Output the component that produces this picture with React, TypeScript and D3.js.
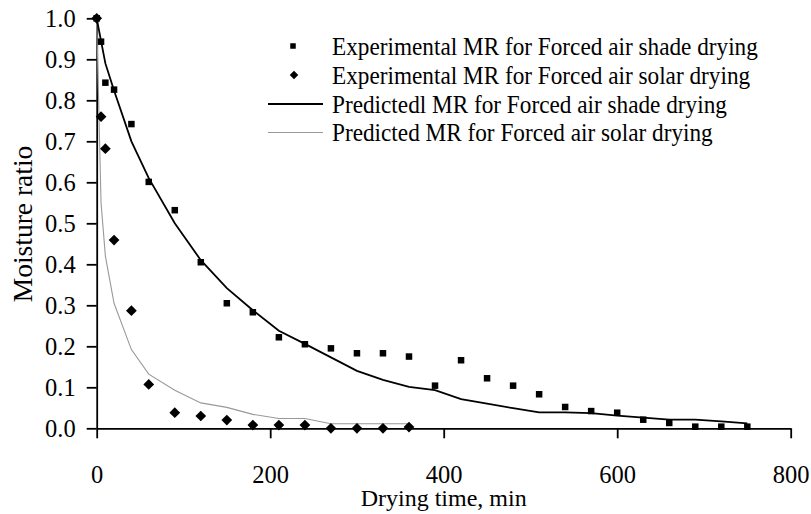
import React, { useEffect, useRef } from 'react';
import * as d3 from 'd3';

// drying time (min)
const shadeTime = [0, 5, 10, 20, 40, 60, 90, 120, 150, 180, 210, 240, 270, 300, 330, 360, 390, 420, 450, 480, 510, 540, 570, 600, 630, 660, 690, 720, 750];
const shadeExp = [1.0, 0.943, 0.843, 0.826, 0.742, 0.601, 0.532, 0.405, 0.305, 0.283, 0.222, 0.205, 0.195, 0.183, 0.183, 0.175, 0.104, 0.166, 0.122, 0.104, 0.083, 0.052, 0.042, 0.038, 0.021, 0.013, 0.004, 0.004, 0.004];
const shadePred = [1.0, 0.945, 0.89, 0.824, 0.7, 0.61, 0.5, 0.41, 0.342, 0.288, 0.238, 0.206, 0.173, 0.14, 0.118, 0.101, 0.093, 0.071, 0.06, 0.049, 0.039, 0.039, 0.037, 0.031, 0.026, 0.021, 0.021, 0.017, 0.012];

const solarTime = [0, 5, 10, 20, 40, 60, 90, 120, 150, 180, 210, 240, 270, 300, 330, 360];
const solarExp = [1.0, 0.76, 0.682, 0.459, 0.287, 0.107, 0.038, 0.03, 0.02, 0.008, 0.008, 0.008, 0.0, 0.0, 0.0, 0.003];
const solarPred = [1.0, 0.55, 0.42, 0.305, 0.192, 0.132, 0.093, 0.062, 0.051, 0.034, 0.024, 0.024, 0.011, 0.011, 0.011, 0.011];

const xTicks = [0, 200, 400, 600, 800];
const yTicks = [0, 0.1, 0.2, 0.3, 0.4, 0.5, 0.6, 0.7, 0.8, 0.9, 1.0];

const legendLabels = [
    'Experimental MR for Forced air shade drying',
    'Experimental MR for Forced air solar drying',
    'Predictedl MR for Forced air shade drying',
    'Predicted MR for Forced air solar drying',
];

const FONT = '"Liberation Serif", "Times New Roman", serif';

const App = () => {
    const svgRef = useRef(null);

    useEffect(() => {
        const width = 811;
        const height = 514;
        const svg = d3.select(svgRef.current);
        svg.selectAll('*').remove();
        svg.attr('width', width).attr('height', height);

        const x = d3.scaleLinear().domain([0, 800]).range([96.7, 790.7]);
        const y = d3.scaleLinear().domain([0, 1]).range([428.3, 18.3]);

        // axes
        const yAxis = svg.append('g')
            .attr('transform', `translate(${x(0)},0)`)
            .call(d3.axisLeft(y).tickValues(yTicks).tickFormat(d3.format('.1f')).tickSize(10).tickSizeOuter(0).tickPadding(11));
        const xAxis = svg.append('g')
            .attr('transform', `translate(0,${y(0)})`)
            .call(d3.axisBottom(x).tickValues(xTicks).tickFormat(d3.format('d')).tickSize(10).tickSizeOuter(0).tickPadding(27));
        [xAxis, yAxis].forEach(g => {
            g.selectAll('path, line').attr('stroke', '#000').attr('stroke-width', 1.8);
            g.selectAll('text').attr('font-family', FONT).attr('font-size', 24.5).attr('fill', '#000');
        });
        yAxis.selectAll('text').attr('dy', '0.35em');

        svg.append('text')
            .attr('x', (x(0) + x(800)) / 2)
            .attr('y', 506)
            .attr('text-anchor', 'middle')
            .attr('font-family', FONT)
            .attr('font-size', 24)
            .text('Drying time, min');
        svg.append('text')
            .attr('transform', `translate(32,224) rotate(-90)`)
            .attr('text-anchor', 'middle')
            .attr('font-family', FONT)
            .attr('font-size', 27.5)
            .text('Moisture ratio');

        // predicted lines
        const line = d3.line().x(d => x(d[0])).y(d => y(d[1]));
        svg.append('path')
            .datum(solarTime.map((t, i) => [t, solarPred[i]]))
            .attr('d', line)
            .attr('fill', 'none')
            .attr('stroke', '#999')
            .attr('stroke-width', 1.1);
        svg.append('path')
            .datum(shadeTime.map((t, i) => [t, shadePred[i]]))
            .attr('d', line)
            .attr('fill', 'none')
            .attr('stroke', '#000')
            .attr('stroke-width', 1.8);

        // experimental points
        const sq = 6.5;
        svg.append('g').selectAll('rect')
            .data(shadeTime.map((t, i) => [t, shadeExp[i]]))
            .enter()
            .append('rect')
            .attr('x', d => x(d[0]) - sq / 2)
            .attr('y', d => y(d[1]) - sq / 2)
            .attr('width', sq)
            .attr('height', sq)
            .attr('fill', '#000');
        const dm = 7.6;
        svg.append('g').selectAll('rect')
            .data(solarTime.map((t, i) => [t, solarExp[i]]))
            .enter()
            .append('rect')
            .attr('x', -dm / 2)
            .attr('y', -dm / 2)
            .attr('width', dm)
            .attr('height', dm)
            .attr('transform', d => `translate(${x(d[0])},${y(d[1])}) rotate(45)`)
            .attr('fill', '#000');

        // legend
        const rowY = [46, 75, 104, 132.5];
        const lg = svg.append('g');
        lg.append('rect').attr('x', 293 - 2.75).attr('y', rowY[0] - 2.75).attr('width', 5.5).attr('height', 5.5).attr('fill', '#000');
        lg.append('rect').attr('x', -3).attr('y', -3).attr('width', 6).attr('height', 6)
            .attr('transform', `translate(294,${rowY[1]}) rotate(45)`).attr('fill', '#000');
        lg.append('line').attr('x1', 268).attr('x2', 323).attr('y1', rowY[2]).attr('y2', rowY[2])
            .attr('stroke', '#000').attr('stroke-width', 2);
        lg.append('line').attr('x1', 268).attr('x2', 323).attr('y1', rowY[3]).attr('y2', rowY[3])
            .attr('stroke', '#999').attr('stroke-width', 1.1);
        lg.selectAll('text')
            .data(legendLabels)
            .enter()
            .append('text')
            .attr('transform', (d, i) => `translate(332,${rowY[i]}) scale(0.93,1)`)
            .attr('dy', '0.35em')
            .attr('font-family', FONT)
            .attr('font-size', 25)
            .text(d => d);
    }, []);

    return (
        <div style={{ position: 'absolute', left: 0, top: 0, width: 811, height: 514, background: '#fff' }}>
            <svg ref={svgRef} style={{ display: 'block' }}></svg>
        </div>
    );
};

export default App;
